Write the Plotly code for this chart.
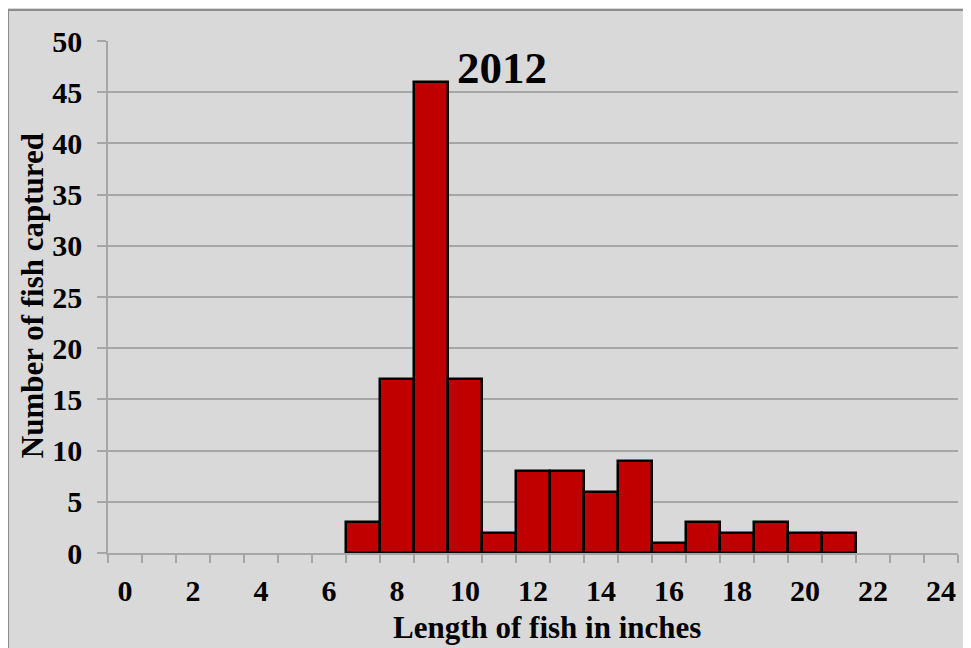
import plotly.graph_objects as go

# fish length (inches) and counts captured in 2012
lengths = [7, 8, 9, 10, 11, 12, 13, 14, 15, 16, 17, 18, 19, 20, 21]
counts = [3, 17, 46, 17, 2, 8, 8, 6, 9, 1, 3, 2, 3, 2, 2]
x_labels = [0, 2, 4, 6, 8, 10, 12, 14, 16, 18, 20, 22, 24]
y_ticks = [0, 5, 10, 15, 20, 25, 30, 35, 40, 45, 50]

font_family = "Liberation Serif"
grid_col = "#a6a6a6"
bg = "#d9d9d9"

fig = go.Figure(go.Bar(
    x=lengths, y=counts,
    marker=dict(color="#c00000", line=dict(color="black", width=2.5)),
))

fig.add_annotation(x=11.1, y=47.4, text="<b>2012</b>", showarrow=False,
                   font=dict(family=font_family, size=45, color="black"))

# axis titles
fig.add_annotation(xref="paper", yref="paper", x=0.517, y=-0.145,
                   xanchor="center", yanchor="middle",
                   text="<b>Length of fish in inches</b>", showarrow=False,
                   font=dict(size=31))
fig.add_annotation(xref="paper", yref="paper", x=-0.088, y=0.502,
                   xanchor="center", yanchor="middle",
                   text="<b>Number of fish captured</b>", showarrow=False,
                   textangle=-90, font=dict(size=31))

# outer chart frame
fig.add_shape(type="rect", xref="paper", yref="paper",
              x0=-0.1176, x1=1.2, y0=-0.4, y1=1.0605,
              line=dict(color="#8c8c8c", width=2), fillcolor="rgba(0,0,0,0)", layer="below")

# page body adds an 8px offset, so the figure is sized to compensate
fig.update_layout(
    width=963, height=640,
    margin=dict(l=100, r=13, t=33, b=95),
    paper_bgcolor=bg, plot_bgcolor=bg,
    bargap=0, showlegend=False,
    font=dict(family=font_family, color="black"),
)
fig.update_xaxes(
    range=[-0.5, 24.5], tickmode="array", tickvals=x_labels,
    ticktext=[f"<b>{v}</b>" for v in x_labels],
    ticks="", tickfont=dict(size=30), showgrid=False, ticklabelstandoff=10,
    showline=True, linecolor=grid_col, linewidth=1.5,
    minor=dict(tickmode="linear", tick0=-0.5, dtick=1, ticks="outside",
               ticklen=8, tickcolor=grid_col, tickwidth=1.5, showgrid=False),
    automargin=False, zeroline=False,
)
fig.update_yaxes(
    range=[0, 50], tickmode="array", tickvals=y_ticks,
    ticktext=[f"<b>{v}</b>" for v in y_ticks],
    ticks="outside", ticklen=9, tickcolor=grid_col, tickwidth=1.5,
    tickfont=dict(size=30), showgrid=True, gridcolor=grid_col, gridwidth=1.5,
    ticklabelstandoff=9,
    showline=True, linecolor=grid_col, linewidth=1.5,
    automargin=False, zeroline=False,
)

fig.write_html("out.html")
